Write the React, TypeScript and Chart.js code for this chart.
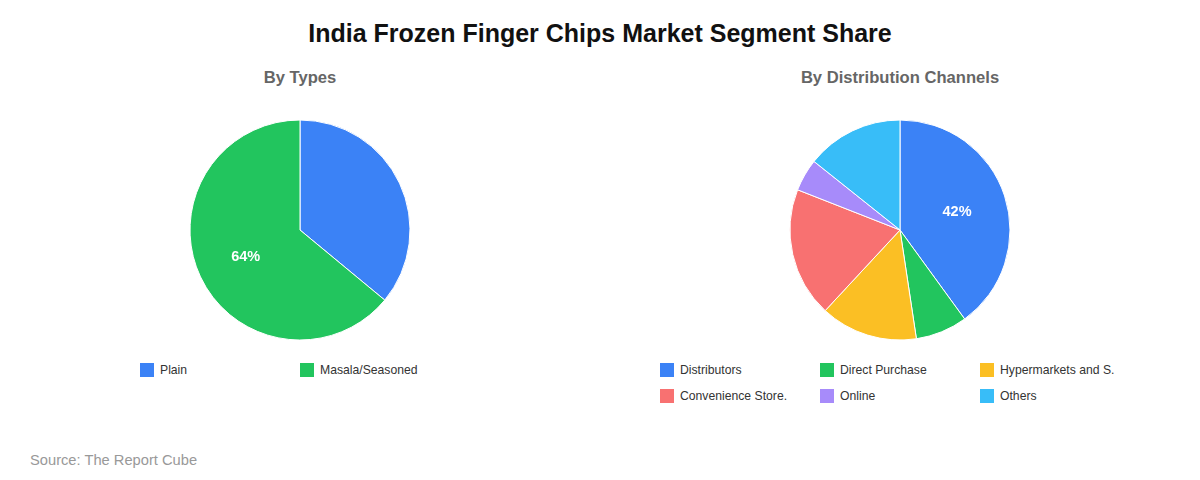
import React, { useEffect, useRef } from "react";
import { Chart, registerables } from "chart.js";
Chart.register(...registerables);

const mainTitle = "India Frozen Finger Chips Market Segment Share";
const sourceText = "Source: The Report Cube";

const typeTitle = "By Types";
const typeLabels = ["Plain", "Masala/Seasoned"];
const typeValues = [36, 64];
const typeColors = ["#3b82f6", "#22c55e"];

const channelTitle = "By Distribution Channels";
const channelLabels = [
  "Distributors",
  "Direct Purchase",
  "Hypermarkets and S.",
  "Convenience Store.",
  "Online",
  "Others",
];
const channelValues = [42, 8, 15, 20, 5, 15];
const channelColors = ["#3b82f6", "#22c55e", "#fbbf24", "#f87171", "#a78bfa", "#38bdf8"];

const FONT = "'Liberation Sans', Arial, Helvetica, sans-serif";

const bigLabelPlugin = {
  id: "bigLabel",
  afterDatasetsDraw(chart: any) {
    const ctx = chart.ctx;
    const vals: number[] = chart.data.datasets[0].data;
    let maxI = 0;
    vals.forEach((v, i) => {
      if (v > vals[maxI]) maxI = i;
    });
    const arc: any = chart.getDatasetMeta(0).data[maxI];
    if (!arc) return;
    const mid = (arc.startAngle + arc.endAngle) / 2;
    const r = arc.outerRadius * 0.545;
    const x = arc.x + Math.cos(mid) * r;
    const y = arc.y + Math.sin(mid) * r;
    ctx.save();
    ctx.fillStyle = "#ffffff";
    ctx.font = `bold 14.5px ${FONT}`;
    ctx.textAlign = "center";
    ctx.textBaseline = "middle";
    ctx.fillText(vals[maxI] + "%", x, y + 1);
    ctx.restore();
  },
};

function Pie(props: { labels: string[]; values: number[]; colors: string[]; cx: number; cy: number }) {
  const ref = useRef<HTMLCanvasElement | null>(null);
  useEffect(() => {
    if (!ref.current) return;
    const chart = new Chart(ref.current, {
      type: "pie",
      data: {
        labels: props.labels,
        datasets: [
          {
            data: props.values,
            backgroundColor: props.colors,
            borderColor: "#ffffff",
            borderWidth: 1,
            hoverOffset: 0,
          },
        ],
      },
      options: {
        responsive: false,
        animation: false,
        radius: 110,
        plugins: {
          legend: { display: false },
          tooltip: { enabled: false },
        },
      } as any,
      plugins: [bigLabelPlugin],
    });
    return () => chart.destroy();
  }, []);
  const size = 240;
  return (
    <canvas
      ref={ref}
      width={size}
      height={size}
      style={{ position: "absolute", left: props.cx - size / 2, top: props.cy - size / 2, width: size, height: size }}
    />
  );
}

function Legend(props: { labels: string[]; colors: string[]; cx: number; top: number; cols: number }) {
  const colW = 160;
  const left = props.cx - (colW * props.cols) / 2;
  return (
    <div style={{ position: "absolute", left, top: props.top, width: colW * props.cols }}>
      {props.labels.map((l, i) => {
        const col = i % props.cols;
        const row = Math.floor(i / props.cols);
        return (
          <div
            key={l}
            style={{
              position: "absolute",
              left: col * colW,
              top: row * 26,
              height: 14,
              display: "flex",
              alignItems: "center",
              whiteSpace: "nowrap",
            }}
          >
            <span style={{ display: "inline-block", width: 14, height: 14, background: props.colors[i], marginRight: 6 }} />
            <span style={{ font: `12.2px ${FONT}`, color: "#333333", lineHeight: "14px" }}>{l}</span>
          </div>
        );
      })}
    </div>
  );
}

export default function App() {
  useEffect(() => {
    document.body.style.margin = "0";
  }, []);
  const sub = {
    position: "absolute" as const,
    top: 68,
    width: 600,
    textAlign: "center" as const,
    font: `bold 16.6px ${FONT}`,
    color: "#666666",
    lineHeight: "19px",
  };
  return (
    <div style={{ position: "relative", width: 1200, height: 480, background: "#ffffff", overflow: "hidden" }}>
      <div
        style={{
          position: "absolute",
          top: 20,
          left: 0,
          width: 1200,
          textAlign: "center",
          font: `bold 25px ${FONT}`,
          color: "#111111",
          lineHeight: "26px",
        }}
      >
        {mainTitle}
      </div>
      <div style={{ ...sub, left: 0 }}>{typeTitle}</div>
      <div style={{ ...sub, left: 600 }}>{channelTitle}</div>
      <Pie labels={typeLabels} values={typeValues} colors={typeColors} cx={300} cy={230} />
      <Pie labels={channelLabels} values={channelValues} colors={channelColors} cx={900} cy={230} />
      <Legend labels={typeLabels} colors={typeColors} cx={300} top={363} cols={2} />
      <Legend labels={channelLabels} colors={channelColors} cx={900} top={363} cols={3} />
      <div style={{ position: "absolute", left: 30, top: 452, font: `14.7px ${FONT}`, color: "#999999", lineHeight: "17px" }}>
        {sourceText}
      </div>
    </div>
  );
}
